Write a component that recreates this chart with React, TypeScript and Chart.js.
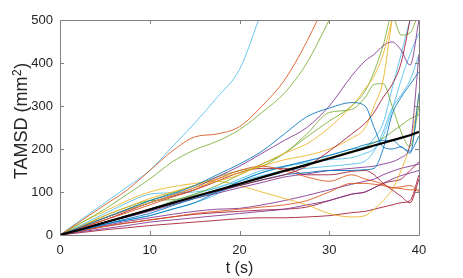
import React, { useEffect, useRef } from 'react';
import { Chart, registerables } from 'chart.js';
Chart.register(...registerables);

// time samples (s)
const T = [0, 2.5, 5, 7.5, 10, 12.5, 15, 17.5, 20, 22.5, 25, 27.5, 30, 32.5, 34, 35, 36, 37, 38, 39, 40];
const X_TICKS = [0, 10, 20, 30, 40];
const Y_TICKS = [0, 100, 200, 300, 400, 500];
const X_TITLE = 't (s)';
const Y_TITLE_MAIN = 'TAMSD (mm';
const Y_TITLE_SUP = '2';
const Y_TITLE_END = ')';

// ensemble mean TAMSD
const MEAN = [0, 14, 29, 44, 59, 74, 89, 104, 119, 134, 149, 163, 178, 193, 202, 208, 214, 220, 226, 232, 240];

// individual trajectories (mm^2)
const A_LBLUE = [0, 38, 75, 112, 150, 205, 260, 320, 385, 520, 640, null, null, null, null, null, null, null, null, null, null];
const B_ORANGE = [0, 35, 70, 105, 150, 195, 228, 235, 252, 300, 360, 450, 560, 680, null, null, null, null, null, null, null];
const C_GREEN = [0, 30, 60, 95, 130, 170, 198, 218, 245, 285, 330, 400, 500, 600, null, null, null, null, null, null, null];
const P1_PURPLE = [0, 20, 40, 58, 75, 92, 110, 135, 160, 190, 220, 250, 300, 370, 405, 420, 440, 449, 430, 395, 500];
const B1_BLUE = [0, 20, 40, 60, 80, 95, 115, 140, 165, 195, 235, 275, 295, 308, 300, 250, 205, 200, 205, 190, 330];
const G2_GREEN = [0, 15, 30, 45, 60, 78, 95, 115, 140, 165, 190, 235, 285, 292, 320, 350, 352, 300, 240, 205, 300];
const G3_GREEN = [0, 20, 40, 60, 80, 98, 115, 135, 150, 160, 190, 228, 265, 300, 335, 380, 440, 510, 465, 470, 520];
const G4_GREEN = [0, 22, 45, 65, 80, 82, 92, 105, 120, 135, 150, 165, 180, 195, 205, 215, 225, 240, 255, 270, 280];
const Y1_YELLOW = [0, 20, 40, 58, 75, 92, 110, 125, 140, 165, 190, 212, 250, 300, 340, 370, 420, 500, 560, null, null];
const Y2_YELLOW = [0, 22, 45, 65, 85, 100, 115, 130, 145, 160, 175, 185, 200, 225, 250, 300, 360, 500, 600, null, null];
const Y3_YELLOW = [0, 30, 55, 80, 100, 112, 120, 125, 115, 100, 85, 70, 50, 42, 45, 60, 80, 105, 150, 210, 320];
const R1_RED = [0, 15, 30, 45, 60, 75, 90, 102, 115, 128, 140, 160, 195, 235, 260, 285, 320, 350, 400, 500, 600];
const L2_LBLUE = [0, 15, 30, 45, 60, 78, 95, 110, 125, 138, 150, 155, 160, 165, 172, 195, 240, 295, 325, 360, 420];
const L3_LBLUE = [0, 12, 25, 35, 45, 60, 75, 95, 125, 145, 158, 172, 185, 200, 205, 225, 260, 340, 420, 500, 560];
const L4_LBLUE = [0, 25, 50, 75, 95, 98, 100, 110, 130, 150, 160, 168, 175, 180, 190, 200, 230, 290, 360, 420, 470];
const B2_BLUE = [0, 12, 25, 38, 50, 68, 85, 100, 115, 128, 140, 145, 150, 150, 152, 155, 200, 280, 320, 350, 380];
const B3_BLUE = [0, 12, 25, 35, 45, 60, 75, 100, 125, 145, 160, 172, 185, 200, 210, 215, 220, 220, 205, 195, 230];
const P2_PURPLE = [0, 15, 30, 42, 55, 70, 85, 97, 110, 122, 135, 142, 150, 155, 158, 160, 165, 170, 180, 210, 420];
const R2_RED = [0, 18, 35, 55, 75, 90, 105, 125, 145, 155, 155, 140, 140, 148, 150, 140, 120, 105, 90, 75, 130];
const O2_ORANGE = [0, 18, 35, 52, 70, 88, 105, 130, 150, 160, 150, 135, 125, 140, 130, 125, 118, 110, 112, 115, 100];
const O3_ORANGE = [0, 10, 20, 28, 35, 42, 50, 55, 60, 65, 70, 80, 100, 120, 120, 118, 115, 110, 108, 105, 105];
const P3_PURPLE = [0, 8, 15, 22, 30, 35, 40, 45, 50, 55, 60, 70, 80, 95, 100, 110, 120, 130, 138, 144, 150];
const P4_PURPLE = [0, 12, 22, 32, 40, 48, 55, 60, 62, 70, 80, 92, 105, 118, 125, 130, 140, 148, 155, 160, 165];
const R3_RED = [0, 6, 12, 17, 22, 26, 30, 34, 38, 40, 40, 42, 45, 52, 55, 60, 65, 70, 75, 80, 140];
const R4_RED = [0, 10, 20, 28, 35, 42, 48, 52, 55, 58, 60, 65, 80, 95, 100, 110, 120, 125, 130, 150, 170];

const C_BLUE = '#0072BD';
const C_ORG = '#D95319';
const C_YEL = '#EDB120';
const C_PUR = '#7E2F8E';
const C_GRN = '#77AC30';
const C_LBL = '#4DBEEE';
const C_RED = '#A2142F';

const TRACES: any[] = [
  [B1_BLUE, C_BLUE], [B_ORANGE, C_ORG], [Y1_YELLOW, C_YEL], [P1_PURPLE, C_PUR], [C_GREEN, C_GRN],
  [A_LBLUE, C_LBL], [R1_RED, C_RED], [B2_BLUE, C_BLUE], [O2_ORANGE, C_ORG], [Y2_YELLOW, C_YEL],
  [P2_PURPLE, C_PUR], [G2_GREEN, C_GRN], [L2_LBLUE, C_LBL], [R2_RED, C_RED], [B3_BLUE, C_BLUE],
  [O3_ORANGE, C_ORG], [Y3_YELLOW, C_YEL], [P3_PURPLE, C_PUR], [G3_GREEN, C_GRN], [L3_LBLUE, C_LBL],
  [R3_RED, C_RED], [P4_PURPLE, C_PUR], [G4_GREEN, C_GRN], [L4_LBLUE, C_LBL], [R4_RED, C_RED],
];

const FONT = "'Liberation Sans', Arial, Helvetica, sans-serif";
const AXIS_COLOR = '#808080';
const TEXT_COLOR = '#262626';

const boxPlugin = {
  id: 'matlabBox',
  afterDatasetsDraw(chart: any) {
    const { ctx, chartArea: a, scales } = chart;
    ctx.save();
    ctx.strokeStyle = AXIS_COLOR;
    ctx.lineWidth = 1;
    ctx.beginPath();
    ctx.rect(Math.round(a.left) + 0.5, Math.round(a.top) + 0.5, Math.round(a.right - a.left), Math.round(a.bottom - a.top));
    ctx.stroke();
    const L = 4;
    ctx.beginPath();
    for (const v of X_TICKS) {
      const x = Math.round(scales.x.getPixelForValue(v)) + 0.5;
      ctx.moveTo(x, a.bottom); ctx.lineTo(x, a.bottom - L);
      ctx.moveTo(x, a.top); ctx.lineTo(x, a.top + L);
    }
    for (const v of Y_TICKS) {
      const y = Math.round(scales.y.getPixelForValue(v)) + 0.5;
      ctx.moveTo(a.left, y); ctx.lineTo(a.left + L, y);
      ctx.moveTo(a.right, y); ctx.lineTo(a.right - L, y);
    }
    ctx.stroke();

    // y-axis title with a raised superscript, as MATLAB renders it
    const mainFont = `18px ${FONT}`;
    const supFont = `12px ${FONT}`;
    ctx.fillStyle = TEXT_COLOR;
    ctx.textBaseline = 'alphabetic';
    ctx.textAlign = 'left';
    ctx.font = mainFont;
    const w1 = ctx.measureText(Y_TITLE_MAIN).width;
    ctx.font = supFont;
    const w2 = ctx.measureText(Y_TITLE_SUP).width;
    ctx.font = mainFont;
    const w3 = ctx.measureText(Y_TITLE_END).width;
    const total = w1 + w2 + w3;
    const centerY = (a.top + a.bottom) / 2 - 6;
    ctx.translate(27, centerY + total / 2);
    ctx.rotate(-Math.PI / 2);
    ctx.font = mainFont;
    ctx.fillText(Y_TITLE_MAIN, 0, 0);
    ctx.font = supFont;
    ctx.fillText(Y_TITLE_SUP, w1 + 0.5, -6);
    ctx.font = mainFont;
    ctx.fillText(Y_TITLE_END, w1 + w2 + 1, 0);
    ctx.restore();
  },
};

export default function App() {
  const ref = useRef<HTMLCanvasElement>(null);
  useEffect(() => {
    if (!ref.current) return;
    const datasets: any[] = [
      {
        data: T.map((t, i) => ({ x: t, y: MEAN[i] })),
        borderColor: '#000000',
        borderWidth: 2.2,
        pointRadius: 0,
        tension: 0,
        order: 0,
      },
      ...TRACES.map(([vals, col], k) => ({
        data: T.map((t, i) => ({ x: t, y: vals[i] })),
        borderColor: col,
        borderWidth: 0.85,
        pointRadius: 0,
        cubicInterpolationMode: 'monotone',
        order: 1 + k,
      })),
    ];
    const chart = new Chart(ref.current, {
      type: 'line',
      data: { datasets },
      plugins: [boxPlugin],
      options: {
        animation: false,
        responsive: false,
        devicePixelRatio: 1,
        layout: { padding: { left: 0, right: 44, top: 20, bottom: 0 } },
        plugins: { legend: { display: false }, tooltip: { enabled: false } },
        scales: {
          x: {
            type: 'linear',
            min: 0,
            max: 40,
            afterBuildTicks: (s: any) => { s.ticks = X_TICKS.map((v) => ({ value: v })); },
            afterFit: (s: any) => { s.height = 43; },
            ticks: { color: TEXT_COLOR, font: { family: FONT, size: 13 }, padding: 7.5, maxRotation: 0 },
            grid: { display: false, drawTicks: false },
            border: { display: false },
            title: { display: true, text: X_TITLE, color: TEXT_COLOR, font: { family: FONT, size: 16 }, padding: 0 },
          },
          y: {
            type: 'linear',
            min: 0,
            max: 500,
            afterBuildTicks: (s: any) => { s.ticks = Y_TICKS.map((v) => ({ value: v })); },
            afterFit: (s: any) => { s.width = 60; },
            ticks: { color: TEXT_COLOR, font: { family: FONT, size: 13 }, padding: 7 },
            grid: { display: false, drawTicks: false },
            border: { display: false },
            title: { display: false },
          },
        },
      } as any,
    });
    return () => chart.destroy();
  }, []);
  return (
    <div style={{ position: 'absolute', left: 0, top: 0, width: 463, height: 278, background: '#fff' }}>
      <canvas ref={ref} width={463} height={278} />
    </div>
  );
}
